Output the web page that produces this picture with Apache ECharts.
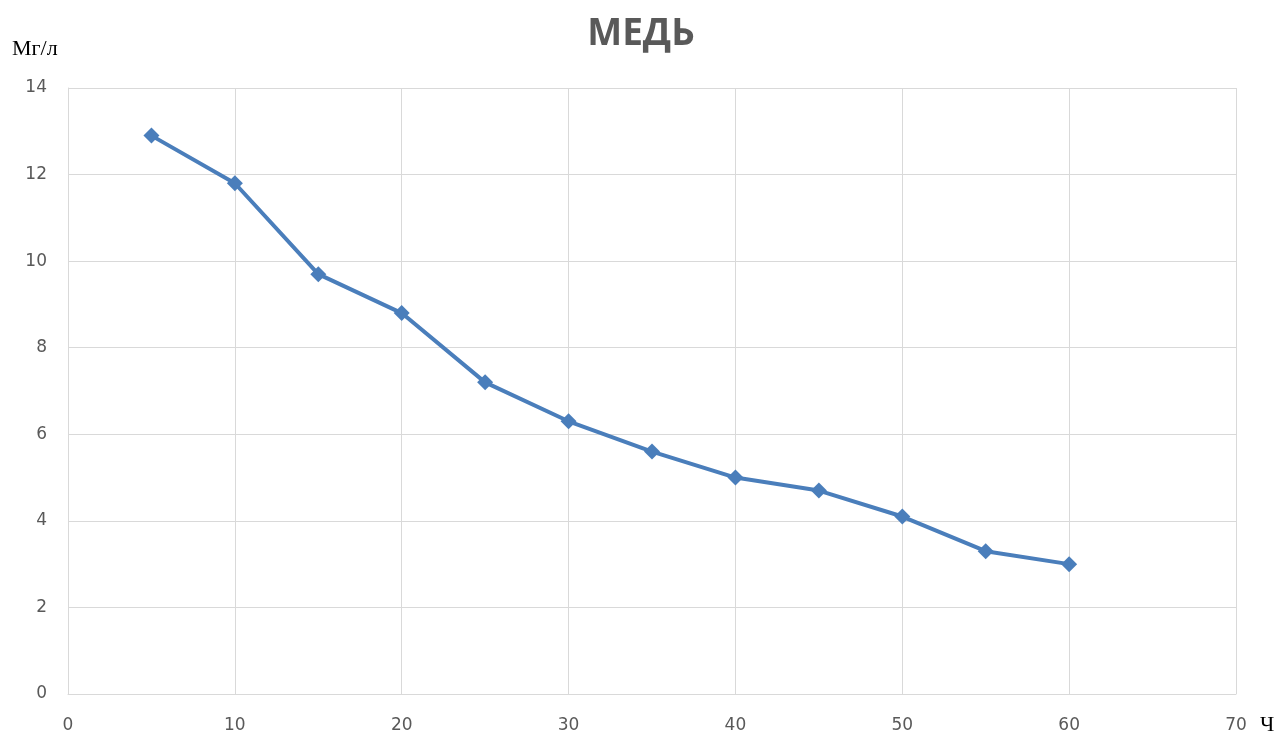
<!DOCTYPE html>
<html>
<head>
<meta charset="utf-8">
<script src="https://cdn.jsdelivr.net/npm/echarts@6/dist/echarts.min.js"></script>
<style>
  html, body { margin: 0; padding: 0; background: #fff; }
  #chart { width: 1282px; height: 734px; }
</style>
</head>
<body>
<div id="chart"></div>
<script>
// Copper concentration over time
const hours = [5, 10, 15, 20, 25, 30, 35, 40, 45, 50, 55, 60];
const copper = [12.9, 11.8, 9.7, 8.8, 7.2, 6.3, 5.6, 5.0, 4.7, 4.1, 3.3, 3.0];
const titleText = 'МЕДЬ';
const yUnit = 'Мг/л';
const xUnit = 'Ч';

const chart = echarts.init(document.getElementById('chart'));
const labelFont = { color: '#595959', fontFamily: 'DejaVu Sans', fontSize: 17 };
const gridLine = { lineStyle: { color: '#d9d9d9', width: 1 } };

chart.setOption({
  animation: false,
  title: {
    text: titleText,
    left: 'center',
    top: 11,
    textStyle: { color: '#595959', fontFamily: 'Open Sans', fontWeight: 'bold', fontSize: 37 }
  },
  grid: { left: 68, right: 46, top: 88, bottom: 40, containLabel: false, outerBoundsMode: 'none' },
  xAxis: {
    type: 'value',
    min: 0, max: 70, interval: 10,
    name: xUnit,
    nameLocation: 'end',
    nameGap: 24,
    nameTextStyle: { color: '#000', fontFamily: 'Liberation Serif', fontSize: 22, verticalAlign: 'top', padding: [20, 0, 0, 0] },
    axisLine: { show: true, lineStyle: { color: '#d9d9d9' } },
    axisTick: { show: false },
    splitLine: { show: true, ...gridLine },
    axisLabel: { ...labelFont, margin: 23 }
  },
  yAxis: {
    type: 'value',
    min: 0, max: 14, interval: 2,
    name: yUnit,
    nameLocation: 'end',
    nameGap: 28,
    nameTextStyle: { color: '#000', fontFamily: 'Liberation Serif', fontSize: 22, align: 'left', padding: [0, 0, 0, -56] },
    axisLine: { show: true, lineStyle: { color: '#d9d9d9' } },
    axisTick: { show: false },
    splitLine: { show: true, ...gridLine },
    axisLabel: { ...labelFont, margin: 21 }
  },
  series: [{
    type: 'line',
    data: hours.map((h, i) => [h, copper[i]]),
    symbol: 'diamond',
    symbolSize: 16,
    lineStyle: { color: '#4a7ebb', width: 4 },
    itemStyle: { color: '#4a7ebb' }
  }]
});
</script>
</body>
</html>
